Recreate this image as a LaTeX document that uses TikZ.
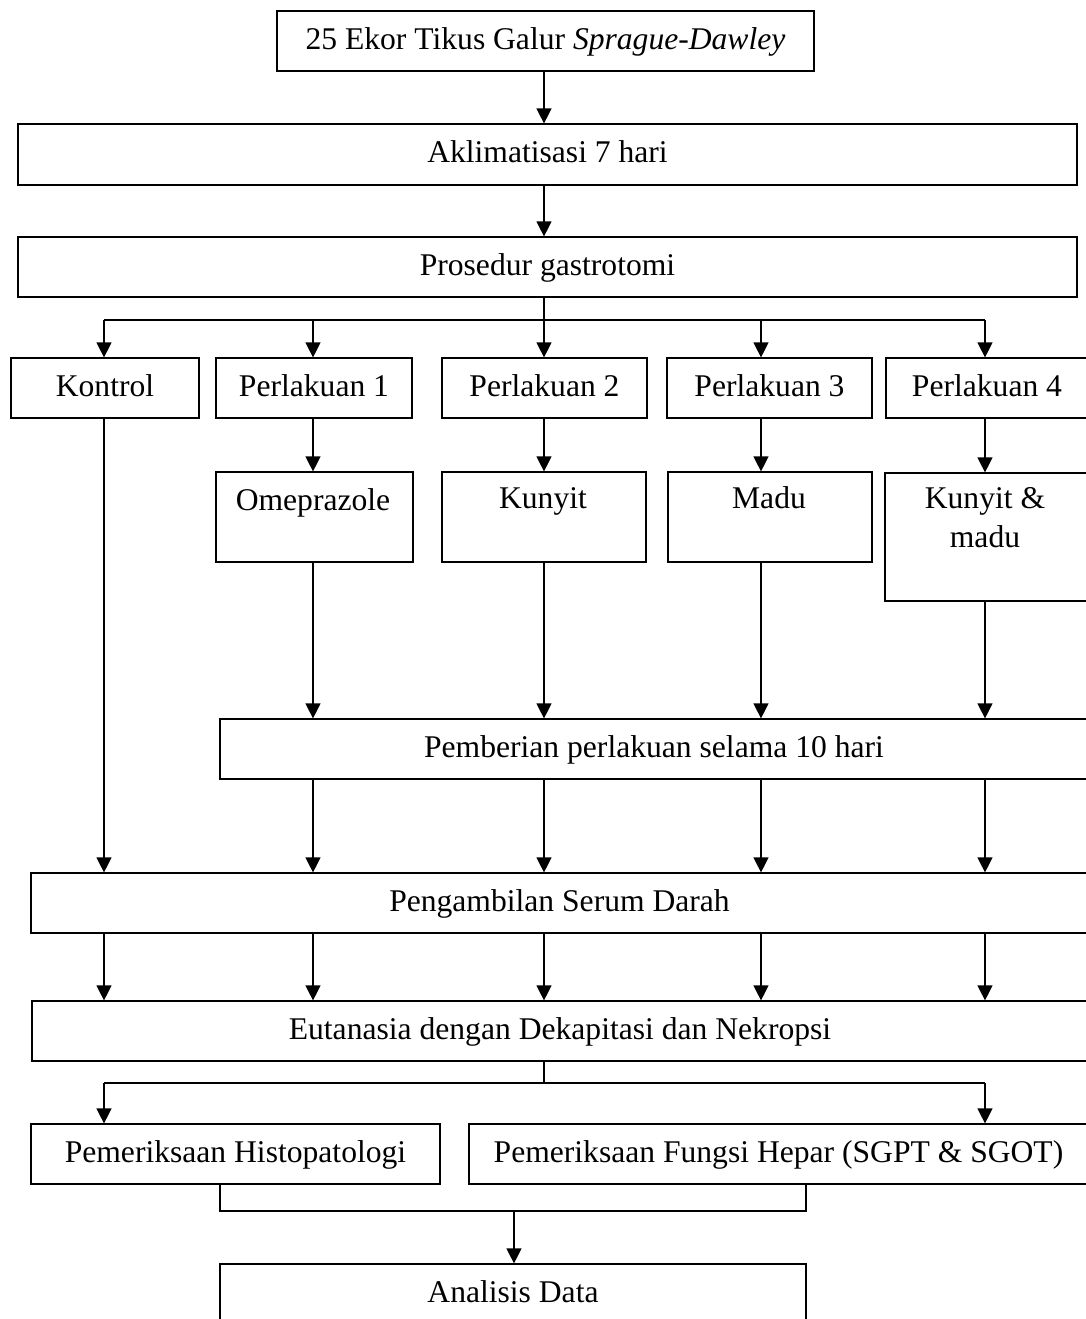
\documentclass[tikz,border=0pt]{standalone}
\usepackage{fontspec}
\setmainfont{Liberation Serif}
\usetikzlibrary{arrows.meta}
\begin{document}
\begin{tikzpicture}[x=0.5pt,y=-0.5pt,
  every node/.style={font=\fontsize{15.8}{19}\selectfont},
  box/.style={draw, line width=0.6pt, inner sep=0pt, text height=11.2pt, text depth=3.2pt},
  sz/.style n args={2}{minimum width=#1*0.5pt, minimum height=#2*0.5pt},
  txt/.style={anchor=base, inner sep=0pt},
  arr/.style={-{Triangle[width=7.5pt,length=7.5pt]}, line width=0.6pt},
  ln/.style={line width=0.6pt}]
\useasboundingbox (0,0) rectangle (1086,1319);
% columns
\coordinate (cA) at (104,0);
\coordinate (cB) at (313,0);
\coordinate (cC) at (544,0);
\coordinate (cD) at (761,0);
\coordinate (cE) at (985,0);
\coordinate (cL) at (220,0);
\coordinate (cR) at (806,0);
\coordinate (cM) at (514,0);
\coordinate (j1) at (544,320);
\coordinate (j2) at (544,1083);
\coordinate (j3) at (514,1211);
% boxes
\node[box, sz={537}{60}] (b1) at (545.5,41) {25 Ekor Tikus Galur \textit{Sprague-Dawley}};
\node[box, sz={1059}{61}] (akl) at (547.5,154.5) {Aklimatisasi 7 hari};
\node[box, sz={1059}{60}] (pro) at (547.5,267) {Prosedur gastrotomi};
\node[box, sz={188}{60}] (kon) at (105,388) {Kontrol};
\node[box, sz={196}{60}] (p1) at (314,388) {Perlakuan 1};
\node[box, sz={205}{60}] (p2) at (544.5,388) {Perlakuan 2};
\node[box, sz={205}{60}] (p3) at (769.5,388) {Perlakuan 3};
\node[box, sz={202}{60}] (p4) at (987,388) {Perlakuan 4};
\node[box, sz={197}{90}] (ome) at (314.5,517) {};
\node[box, sz={204}{90}] (kun) at (544,517) {};
\node[box, sz={204}{90}] (mad) at (770,517) {};
\node[box, sz={203}{128}] (km) at (986.5,537) {};
\node[txt] (omeT) at (313,510) {Omeprazole};
\node[txt] (kunT) at (543,508) {Kunyit};
\node[txt] (madT) at (769,508) {Madu};
\node[txt] (kmT1) at (985,508) {Kunyit \&};
\node[txt] (kmT2) at (985,547) {madu};
\node[box, sz={868}{60}] (pem) at (654,749) {Pemberian perlakuan selama 10 hari};
\node[box, sz={1057}{60}] (peng) at (559.5,903) {Pengambilan Serum Darah};
\node[box, sz={1056}{60}] (eut) at (560,1031) {Eutanasia dengan Dekapitasi dan Nekropsi};
\node[box, sz={409}{60}] (his) at (235.5,1154) {Pemeriksaan Histopatologi};
\node[box, sz={619}{60}] (hep) at (778.5,1154) {Pemeriksaan Fungsi Hepar (SGPT \& SGOT)};
\node[box, sz={586}{76}] (ana) at (513,1302) {};
\node[txt] (anaT) at (513,1302) {Analisis Data};
% connectors
\draw[arr] (b1.south -| cC) -- (akl.north -| cC);
\draw[arr] (akl.south -| cC) -- (pro.north -| cC);
\draw[ln] (pro.south -| cC) -- (j1);
\draw[ln] (j1 -| cA) -- (j1 -| cE);
\draw[arr] (j1 -| cA) -- (kon.north -| cA);
\draw[arr] (j1 -| cB) -- (p1.north -| cB);
\draw[arr] (j1 -| cC) -- (p2.north -| cC);
\draw[arr] (j1 -| cD) -- (p3.north -| cD);
\draw[arr] (j1 -| cE) -- (p4.north -| cE);
\draw[arr] (p1.south -| cB) -- (ome.north -| cB);
\draw[arr] (p2.south -| cC) -- (kun.north -| cC);
\draw[arr] (p3.south -| cD) -- (mad.north -| cD);
\draw[arr] (p4.south -| cE) -- (km.north -| cE);
\draw[arr] (kon.south -| cA) -- (peng.north -| cA);
\draw[arr] (ome.south -| cB) -- (pem.north -| cB);
\draw[arr] (kun.south -| cC) -- (pem.north -| cC);
\draw[arr] (mad.south -| cD) -- (pem.north -| cD);
\draw[arr] (km.south -| cE) -- (pem.north -| cE);
\foreach \c in {cB,cC,cD,cE}
  \draw[arr] (pem.south -| \c) -- (peng.north -| \c);
\foreach \c in {cA,cB,cC,cD,cE}
  \draw[arr] (peng.south -| \c) -- (eut.north -| \c);
\draw[ln] (eut.south -| cC) -- (j2);
\draw[ln] (j2 -| cA) -- (j2 -| cE);
\draw[arr] (j2 -| cA) -- (his.north -| cA);
\draw[arr] (j2 -| cE) -- (hep.north -| cE);
\draw[ln] (his.south -| cL) -- (j3 -| cL) -- (j3 -| cR) -- (hep.south -| cR);
\draw[arr] (j3 -| cM) -- (ana.north -| cM);
\end{tikzpicture}
\end{document}
